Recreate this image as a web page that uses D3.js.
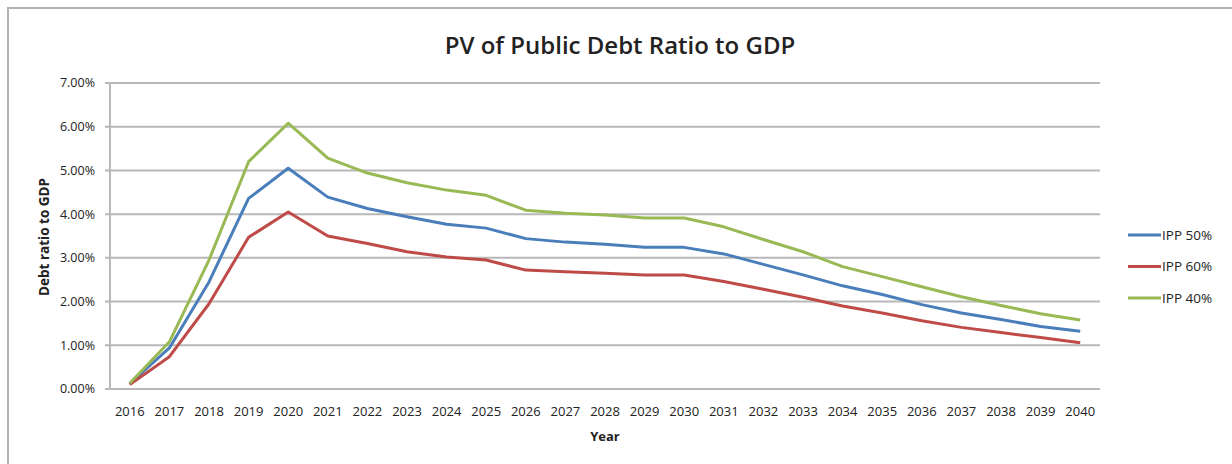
<!DOCTYPE html>
<html>
<head>
<meta charset="utf-8">
<script src="https://cdn.jsdelivr.net/npm/d3@7"></script>
<style>
  html, body { margin: 0; padding: 0; background: #fff; }
  svg { display: block; }
  text { font-family: "Open Sans", "Noto Sans", sans-serif; fill: #222; }
</style>
</head>
<body>
<svg id="chart" width="1232" height="464"></svg>
<script>
// Years on the category axis
const years = ["2016","2017","2018","2019","2020","2021","2022","2023","2024","2025","2026","2027","2028",
               "2029","2030","2031","2032","2033","2034","2035","2036","2037","2038","2039","2040"];

// PV of public debt as a share of GDP (%) under each IPP scenario
const ipp50 = [0.12, 0.94, 2.45, 4.36, 5.05, 4.39, 4.13, 3.94, 3.77, 3.68, 3.44, 3.36, 3.31, 3.24, 3.24,
               3.09, 2.85, 2.61, 2.36, 2.16, 1.93, 1.74, 1.59, 1.43, 1.32];
const ipp60 = [0.10, 0.74, 1.95, 3.47, 4.05, 3.50, 3.33, 3.14, 3.02, 2.95, 2.72, 2.68, 2.65, 2.61, 2.61,
               2.46, 2.28, 2.10, 1.90, 1.74, 1.56, 1.41, 1.29, 1.18, 1.06];
const ipp40 = [0.13, 1.08, 2.95, 5.20, 6.08, 5.28, 4.94, 4.72, 4.55, 4.43, 4.09, 4.02, 3.98, 3.91, 3.91,
               3.71, 3.42, 3.14, 2.80, 2.57, 2.34, 2.11, 1.91, 1.72, 1.58];

const seriesNames = ["IPP 50%", "IPP 60%", "IPP 40%"];
const seriesColors = ["#4a7ebb", "#be4b48", "#98b954"];
const yTicks = [0, 1, 2, 3, 4, 5, 6, 7];

const series = seriesNames.map((name, i) => ({
  name, color: seriesColors[i], values: [ipp50, ipp60, ipp40][i]
}));

const svg = d3.select("#chart");

// Chart frame
svg.append("rect")
  .attr("x", 8).attr("y", 8).attr("width", 1240).attr("height", 470)
  .attr("fill", "#fff").attr("stroke", "#b3b3b3").attr("stroke-width", 2);

const plot = { left: 110, right: 1100, top: 83, bottom: 389 };

const x = d3.scaleBand().domain(years).range([plot.left, plot.right]);
const y = d3.scaleLinear().domain([0, 7]).range([plot.bottom, plot.top]);

// Horizontal gridlines
svg.append("g")
  .selectAll("line")
  .data(yTicks)
  .join("line")
  .attr("x1", plot.left - 5).attr("x2", plot.right)
  .attr("y1", d => y(d)).attr("y2", d => y(d))
  .attr("stroke", "#b8b8b8").attr("stroke-width", 2);

// Y axis line
svg.append("line")
  .attr("x1", plot.left).attr("x2", plot.left)
  .attr("y1", plot.top).attr("y2", plot.bottom)
  .attr("stroke", "#b8b8b8").attr("stroke-width", 2);

// Y tick labels
svg.append("g")
  .selectAll("text")
  .data(yTicks)
  .join("text")
  .attr("x", plot.left - 15)
  .attr("y", d => y(d))
  .attr("dy", "0.35em")
  .attr("text-anchor", "end")
  .style("font-size", "12.5px")
  .text(d => d3.format(".2f")(d) + "%");

// X tick labels
svg.append("g")
  .selectAll("text")
  .data(years)
  .join("text")
  .attr("x", d => x(d) + x.bandwidth() / 2)
  .attr("y", 411)
  .attr("dy", "0.35em")
  .attr("text-anchor", "middle")
  .style("font-size", "13px")
  .text(d => d);

// Axis titles
svg.append("text")
  .attr("x", 605)
  .attr("y", 436)
  .attr("dy", "0.35em")
  .attr("text-anchor", "middle")
  .style("font-size", "13px").style("font-weight", "bold")
  .text("Year");

svg.append("text")
  .attr("transform", `translate(44, 237) rotate(-90)`)
  .attr("dy", "0.35em")
  .attr("text-anchor", "middle")
  .style("font-size", "13.5px").style("font-weight", "bold")
  .text("Debt ratio to GDP");

// Chart title
svg.append("text")
  .attr("x", 620)
  .attr("y", 46)
  .attr("dy", "0.35em")
  .attr("text-anchor", "middle")
  .style("font-size", "24px").style("font-weight", "600")
  .text("PV of Public Debt Ratio to GDP");

// Series lines
const line = d3.line()
  .x((d, i) => x(years[i]) + x.bandwidth() / 2)
  .y(d => y(d));

svg.append("g")
  .selectAll("path")
  .data(series)
  .join("path")
  .attr("d", d => line(d.values))
  .attr("fill", "none")
  .attr("stroke", d => d.color)
  .attr("stroke-width", 3)
  .attr("stroke-linejoin", "round");

// Legend
const legend = svg.append("g")
  .selectAll("g")
  .data(series)
  .join("g")
  .attr("transform", (d, i) => `translate(1128, ${235 + i * 31.5})`);

legend.append("line")
  .attr("x1", 0).attr("x2", 33)
  .attr("stroke", d => d.color).attr("stroke-width", 3);

legend.append("text")
  .attr("x", 34)
  .attr("dy", "0.35em")
  .style("font-size", "13.5px")
  .text(d => d.name);
</script>
</body>
</html>
